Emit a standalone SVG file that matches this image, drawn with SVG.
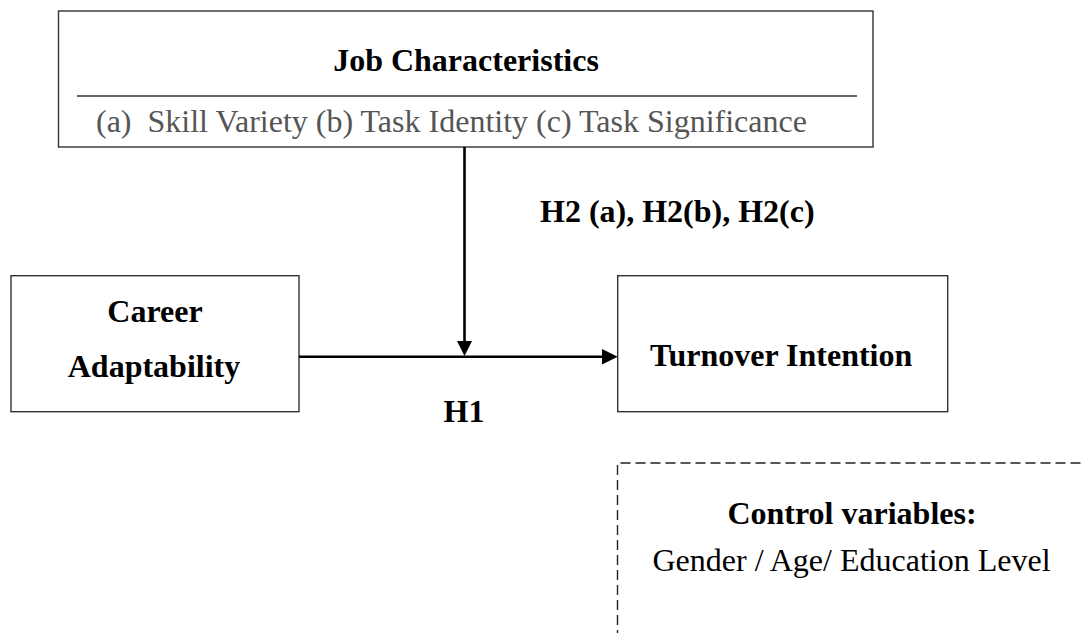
<svg xmlns="http://www.w3.org/2000/svg" width="1085" height="633" viewBox="0 0 1085 633">
  <defs>
    <style>
      .box { fill: #ffffff; stroke: #333333; stroke-width: 1.4; }
      .rule { stroke: #333333; stroke-width: 1.4; }
      .dash { fill: none; stroke: #222222; stroke-width: 1.4; stroke-dasharray: 10 5; }
      .link { stroke: #000000; stroke-width: 2.6; fill: none; }
      .head { fill: #000000; }
      .t { font-family: "Liberation Serif", "Times New Roman", serif; font-size: 32px; fill: #000000; }
      .b { font-weight: bold; }
      .sub { fill: #555555; }
    </style>
  </defs>
  <rect width="1085" height="633" fill="#ffffff"/>

  <!-- moderator box -->
  <g id="job-characteristics">
    <rect class="box" x="58.5" y="11" width="814.5" height="136"/>
    <line class="rule" x1="77" y1="96" x2="857" y2="96"/>
    <text class="t b" x="466" y="71" text-anchor="middle">Job Characteristics</text>
    <text class="t sub" x="96" y="132">(a)&#160; Skill Variety (b) Task Identity (c) Task Significance</text>
  </g>

  <!-- independent variable -->
  <g id="career-adaptability">
    <rect class="box" x="11" y="275.7" width="288" height="136"/>
    <text class="t b" x="155" y="322" text-anchor="middle">Career</text>
    <text class="t b" x="154" y="377" text-anchor="middle">Adaptability</text>
  </g>

  <!-- dependent variable -->
  <g id="turnover-intention">
    <rect class="box" x="617.7" y="275.7" width="330" height="136"/>
    <text class="t b" x="650" y="366">Turnover Intention</text>
  </g>

  <!-- controls -->
  <g id="control-variables">
    <path class="dash" d="M617.5,640 V463 H1090"/>
    <text class="t b" x="852" y="524" text-anchor="middle">Control variables:</text>
    <text class="t" x="851.5" y="571" text-anchor="middle">Gender / Age/ Education Level</text>
  </g>

  <!-- paths -->
  <g id="connectors">
    <line class="link" x1="464.5" y1="147" x2="464.5" y2="342"/>
    <polygon class="head" points="457,341 472,341 464.5,356"/>
    <line class="link" x1="299" y1="356.7" x2="603" y2="356.7"/>
    <polygon class="head" points="602,349 602,364.4 617.7,356.7"/>
    <text class="t b" x="540" y="222">H2 (a), H2(b), H2(c)</text>
    <text class="t b" x="464" y="422" text-anchor="middle">H1</text>
  </g>
</svg>
